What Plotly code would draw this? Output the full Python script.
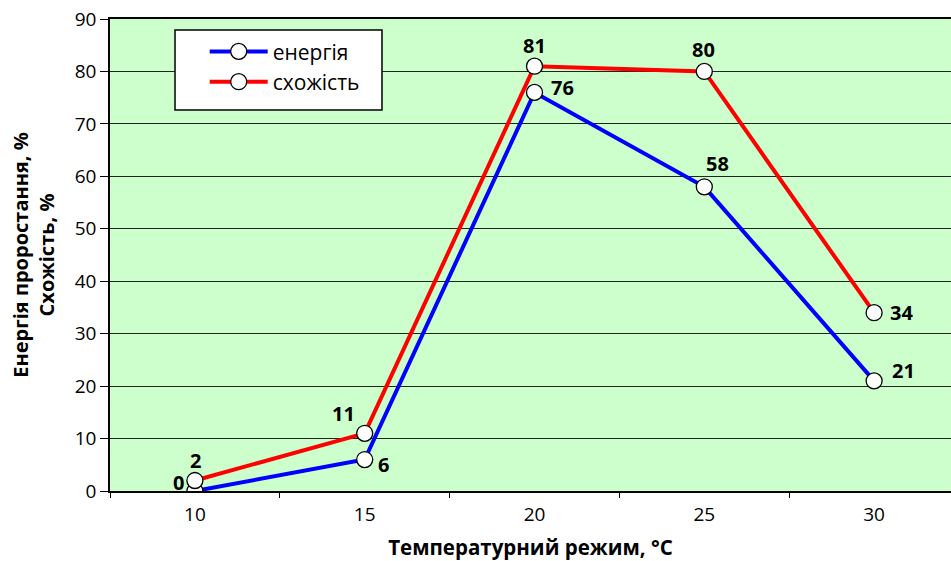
import plotly.graph_objects as go

temps = [10, 15, 20, 25, 30]
energy = [0, 6, 76, 58, 21]
similarity = [2, 11, 81, 80, 34]
y_ticks = [0, 10, 20, 30, 40, 50, 60, 70, 80, 90]

energy_label_shift = [(-16, 9), (19, -5), (28, 5), (13, 23), (29, 10)]
similarity_label_shift = [(1, 20), (-21, 20), (0, 21), (-1, 22), (27, 0)]

FONT = "Open Sans"

fig = go.Figure()
marker = dict(size=16, color="white", line=dict(color="black", width=1.3))
fig.add_trace(go.Scatter(x=temps, y=energy, mode="lines+markers", name="енергія",
                         line=dict(color="#0000FF", width=4), marker=marker))
fig.add_trace(go.Scatter(x=temps, y=similarity, mode="lines+markers", name="схожість",
                         line=dict(color="#FF0000", width=4), marker=marker))

for xs, ys, shifts in [(temps, energy, energy_label_shift), (temps, similarity, similarity_label_shift)]:
    for x, y, (dx, dy) in zip(xs, ys, shifts):
        fig.add_annotation(x=x, y=y, text=f"<b>{y}</b>", showarrow=False,
                           xshift=dx, yshift=dy, font=dict(family=FONT, size=20, color="black"))

# legend frame
fig.add_shape(type="rect", xref="paper", yref="paper", x0=0.0773, x1=0.3234, y0=0.8072, y1=0.9767,
              fillcolor="white", line=dict(color="black", width=1.5), layer="above")

fig.update_layout(
    width=951, height=561,
    margin=dict(l=110, r=0, t=19, b=70),
    paper_bgcolor="white",
    plot_bgcolor="#CCFFCC",
    font=dict(family=FONT, color="black"),
    showlegend=True,
    legend=dict(x=0.1126, y=0.974, xanchor="left", yanchor="top",
                bgcolor="rgba(0,0,0,0)", borderwidth=0,
                font=dict(family=FONT, size=21), itemwidth=58),
)
fig.update_xaxes(
    range=[7.5, 32.264], tickvals=temps, ticktext=[str(t) for t in temps],
    ticks="", showgrid=False, zeroline=False,
    showline=True, mirror=True, linecolor="black", linewidth=1.5,
    tickfont=dict(family=FONT, size=19), ticklabelstandoff=5,
    minor=dict(tickvals=[7.5, 12.5, 17.5, 22.5, 27.5], ticks="outside", ticklen=5,
               tickcolor="black", showgrid=False),
    title=dict(text="<b>Температурний режим, °C</b>", font=dict(family=FONT, size=20.5), standoff=16),
)
fig.update_yaxes(
    range=[0, 90], tickvals=y_ticks, ticks="outside", ticklen=8, tickcolor="black",
    showgrid=True, gridcolor="#222222", gridwidth=1, zeroline=False,
    showline=True, linecolor="black", linewidth=1.5,
    tickfont=dict(family=FONT, size=19),
    title=dict(text="<b>Енергія проростання, %<br>Схожість, %</b>", font=dict(family=FONT, size=20), standoff=15),
)
fig.write_html("out.html", config={"displayModeBar": False},
               post_script="document.body.style.margin='0';document.body.style.overflow='hidden';")
